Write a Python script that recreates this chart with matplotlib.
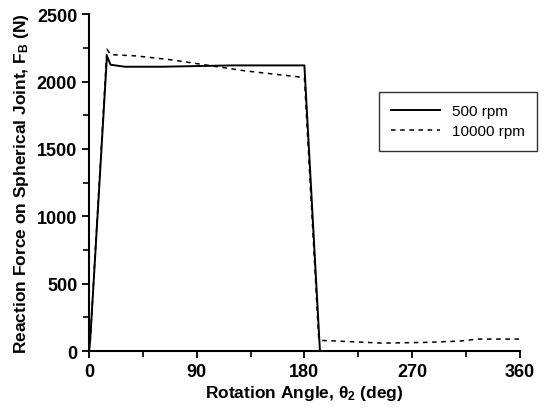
import matplotlib
matplotlib.use('Agg')
import matplotlib.pyplot as plt
from matplotlib.ticker import MultipleLocator

plt.rcParams['font.family'] = ['Liberation Sans', 'DejaVu Sans']
plt.rcParams['mathtext.fontset'] = 'custom'
plt.rcParams['mathtext.rm'] = 'Liberation Sans:bold'
plt.rcParams['mathtext.bf'] = 'Liberation Sans:bold'
plt.rcParams['mathtext.it'] = 'Liberation Sans:bold'

# 500 rpm (solid)
angle_500 = [0, 1, 15, 18, 30, 60, 90, 120, 150, 180, 193, 200, 270, 360]
force_500 = [0, 80, 2190, 2125, 2110, 2110, 2115, 2120, 2120, 2120, 0, 0, 0, 0]

# 10000 rpm (dashed)
angle_10k = [0, 1, 15, 18, 40, 70, 100, 130, 160, 180, 192, 194, 220, 245, 280, 310, 325, 360]
force_10k = [0, 80, 2240, 2200, 2190, 2160, 2120, 2080, 2050, 2030, 90, 80, 70, 60, 65, 75, 90, 90]

legend_labels = ['500 rpm', '10000 rpm']

fig = plt.figure(figsize=(5.46, 4.10), dpi=100)
ax = fig.add_axes([0.163, 0.141, 0.789, 0.822])

ax.plot(angle_500, force_500, color='black', linewidth=1.4, linestyle='-', label=legend_labels[0])
ax.plot(angle_10k, force_10k, color='black', linewidth=1.1, linestyle=(0, (3, 3)), label=legend_labels[1])

ax.set_xlim(0, 360)
ax.set_ylim(0, 2500)
ax.xaxis.set_major_locator(MultipleLocator(90))
ax.xaxis.set_minor_locator(MultipleLocator(45))
ax.yaxis.set_major_locator(MultipleLocator(500))
ax.yaxis.set_minor_locator(MultipleLocator(250))

ax.spines['top'].set_visible(False)
ax.spines['right'].set_visible(False)
ax.spines['left'].set_linewidth(1.5)
ax.spines['bottom'].set_linewidth(1.5)
ax.tick_params(which='major', direction='out', length=5, width=1.3, labelsize=13)
ax.tick_params(which='minor', direction='out', length=4, width=1.2)
for lab in ax.get_xticklabels() + ax.get_yticklabels():
    lab.set_fontweight('bold')

ax.set_xlabel(r'Rotation Angle, θ$_{2}$ (deg)', fontsize=12.5, fontweight='bold', labelpad=2)
ax.set_ylabel(r'Reaction Force on Spherical Joint, F$_{B}$ (N)', fontsize=12.5, fontweight='bold', labelpad=4)

leg = ax.legend(loc='upper left', bbox_to_anchor=(0.673, 0.769), frameon=True, fancybox=False,
                edgecolor='black', fontsize=11, handlelength=3.2, borderpad=0.8,
                labelspacing=0.4, handletextpad=0.8, borderaxespad=0)
leg.get_frame().set_linewidth(1.0)

fig.savefig('out.png', dpi=100)
